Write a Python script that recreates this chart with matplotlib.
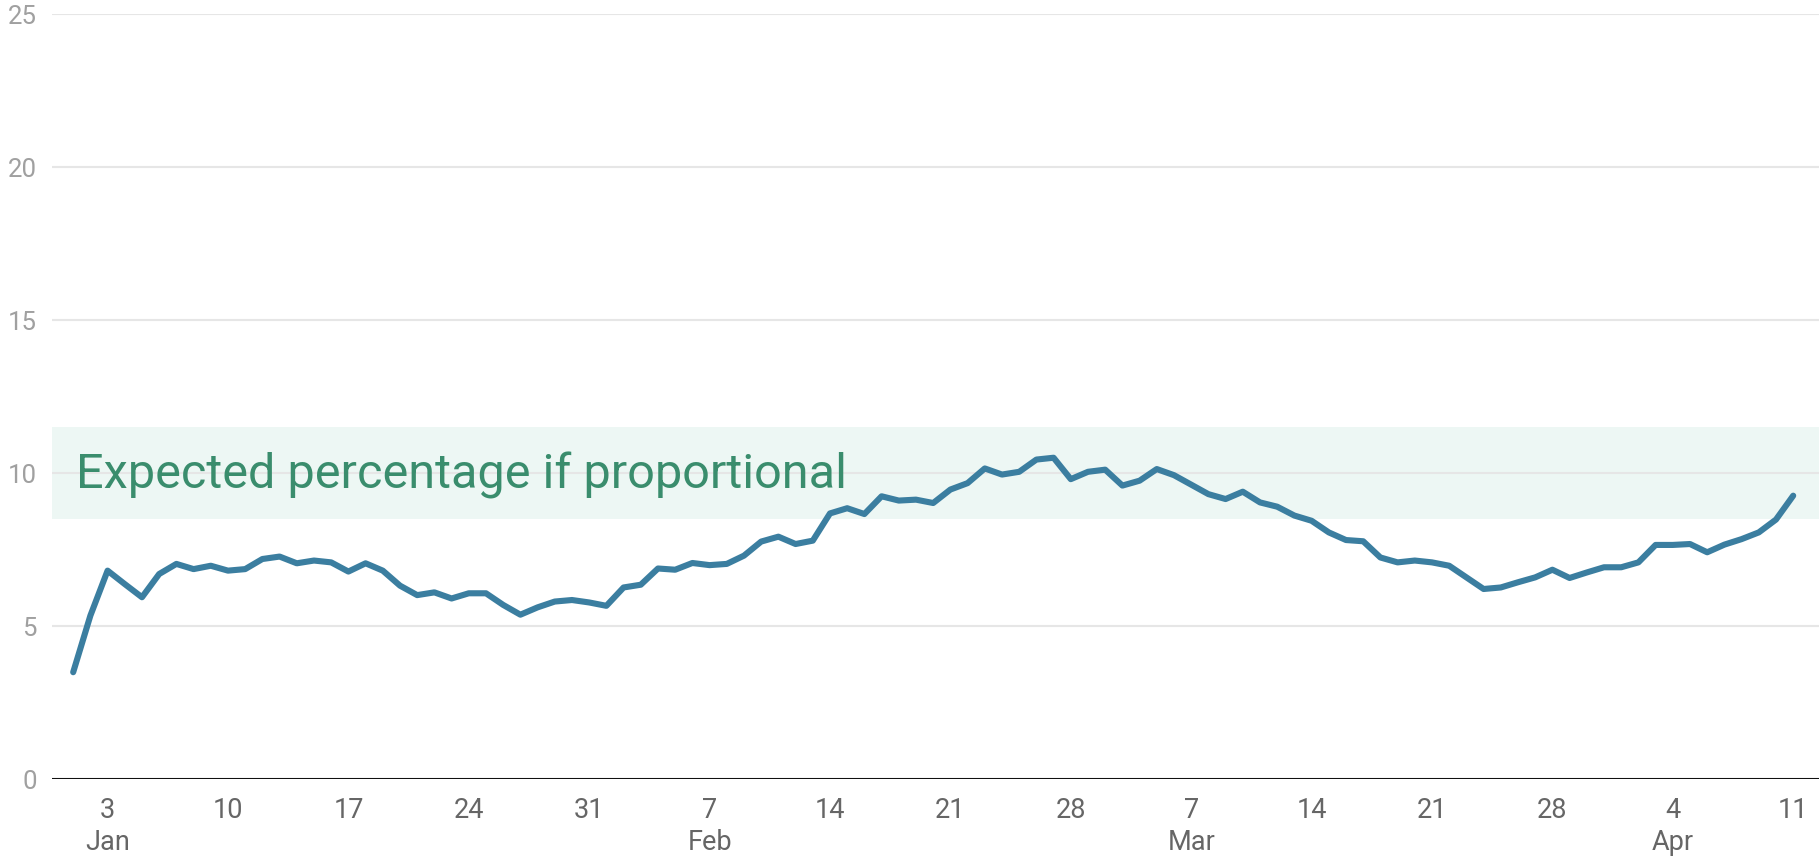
import matplotlib
matplotlib.use("Agg")
import matplotlib.pyplot as plt
import matplotlib.dates as mdates
import numpy as np
import pandas as pd

plt.rcParams['font.family'] = ['Roboto', 'DejaVu Sans']

# Daily share (%), 1 Jan - 11 Apr
jan = [3.49, 5.34, 6.81, 6.37, 5.94, 6.70, 7.03, 6.86, 6.97, 6.81,
       6.86, 7.19, 7.27, 7.05, 7.14, 7.08, 6.78, 7.05, 6.81, 6.32,
       6.01, 6.10, 5.90, 6.07, 6.07, 5.69, 5.37, 5.61, 5.80, 5.85, 5.77]
feb = [5.66, 6.26, 6.35, 6.88, 6.84, 7.06, 6.99, 7.03, 7.30, 7.76,
       7.92, 7.68, 7.79, 8.68, 8.85, 8.66, 9.24, 9.10, 9.13, 9.02,
       9.46, 9.67, 10.15, 9.95, 10.04, 10.44, 10.50, 9.80]
mar = [10.04, 10.11, 9.59, 9.75, 10.13, 9.93, 9.62, 9.31, 9.15, 9.39,
       9.04, 8.90, 8.61, 8.44, 8.06, 7.81, 7.77, 7.24, 7.08, 7.14,
       7.08, 6.97, 6.59, 6.21, 6.26, 6.43, 6.59, 6.84, 6.57, 6.75, 6.92]
apr = [6.92, 7.08, 7.65, 7.65, 7.68, 7.41, 7.66, 7.84, 8.06, 8.48, 9.26]

values = jan + feb + mar + apr
dates = pd.date_range('2021-01-01', periods=len(values), freq='D')

# expected range if proportional
band_low, band_high = 8.5, 11.5
band_label = 'Expected percentage if proportional'

yticks = [0, 5, 10, 15, 20, 25]
tick_dates = pd.date_range('2021-01-03', '2021-04-11', freq='7D')

fig = plt.figure(figsize=(18.19, 8.57), dpi=100)
ax = fig.add_axes([0.0286, 0.091, 0.9714, 0.8926])

xnum = mdates.date2num(dates)
ax.axhspan(band_low, band_high, color='#edf7f4', zorder=0.2, lw=0)
ax.plot(xnum, values, color='#3b7ea0', lw=4.4, solid_joinstyle='round',
        solid_capstyle='round', zorder=3)
ax.axhline(0, color='#111111', lw=2.2, zorder=2)

ax.text(xnum[0] + 0.15, 9.51, band_label, fontsize=35, color='#3a8d6d',
        va='baseline', ha='left', zorder=4)

ax.set_ylim(0, 25)
ax.set_xlim(xnum[0] - 1.23, xnum[-1] + 1.5)
ax.set_yticks(yticks)
ax.set_yticklabels([str(v) for v in yticks])
ax.yaxis.grid(True, color='#e6e6e6', lw=1.5)
ax.set_axisbelow(True)

labels = []
seen = set()
for d in tick_dates:
    if d.month not in seen:
        seen.add(d.month)
        labels.append(f"{d.day}\n{d.strftime('%b')}")
    else:
        labels.append(str(d.day))
ax.set_xticks(mdates.date2num(tick_dates))
ax.set_xticklabels(labels, linespacing=1.25)

ax.tick_params(axis='y', length=0, pad=11, labelsize=18.5, labelcolor='#a0a0a0')
ax.tick_params(axis='x', length=0, pad=13, labelsize=19.5, labelcolor='#666666')
for lab in ax.get_xticklabels():
    lab.set_verticalalignment('top')

for s in ax.spines.values():
    s.set_visible(False)

fig.savefig('out.png', dpi=100)
